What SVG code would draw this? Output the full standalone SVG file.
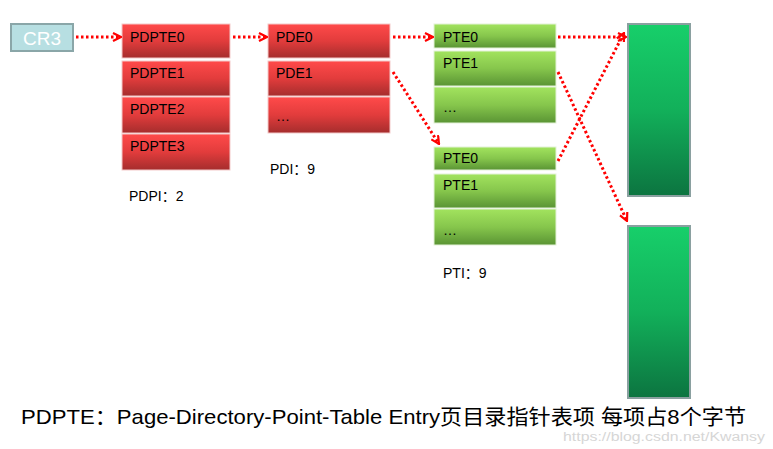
<svg xmlns="http://www.w3.org/2000/svg" width="773" height="449" viewBox="0 0 773 449">
<defs>
<linearGradient id="gRed" x1="0" y1="0" x2="0" y2="1">
<stop offset="0" stop-color="#ff4a4a"/><stop offset="0.5" stop-color="#e23c3c"/><stop offset="1" stop-color="#a52d2d"/>
</linearGradient>
<linearGradient id="gLime" x1="0" y1="0" x2="0" y2="1">
<stop offset="0" stop-color="#a2e35e"/><stop offset="0.5" stop-color="#86c64c"/><stop offset="1" stop-color="#5a9434"/>
</linearGradient>
<linearGradient id="gPage" x1="0" y1="0" x2="0" y2="1">
<stop offset="0" stop-color="#17cf6a"/><stop offset="0.5" stop-color="#12b05a"/><stop offset="1" stop-color="#0c7440"/>
</linearGradient>
<marker id="ah" viewBox="0 0 10 10" refX="9" refY="5" markerWidth="10" markerHeight="10" markerUnits="userSpaceOnUse" orient="auto">
<path d="M1,1 L9,5 L1,9" fill="none" stroke="#ff0000" stroke-width="2.2"/>
</marker>
<style>
.red{fill:url(#gRed);stroke:#f3c9c9;stroke-width:1}
.lime{fill:url(#gLime);stroke:#e4f2d8;stroke-width:1}
.page{fill:url(#gPage);stroke:#8aa0a0;stroke-width:2}
.t{font-family:"Liberation Sans",Arial,sans-serif;font-size:14px;fill:#000}
.lbl{font-family:"Liberation Sans",Arial,"Noto Sans CJK SC",sans-serif;font-size:14px;fill:#000}
.c{fill:none;stroke:#ff0000;stroke-width:3;stroke-dasharray:2.5 2.5;marker-end:url(#ah)}
</style>
</defs>
<rect width="773" height="449" fill="#ffffff"/>

<g id="cr3">
<rect x="11" y="24" width="62" height="27" fill="#b7dfe2" stroke="#8aa6a8" stroke-width="2"/>
<text x="42" y="45" text-anchor="middle" font-family="Liberation Sans,Arial,sans-serif" font-size="19" fill="#ffffff">CR3</text>
</g>

<g id="pdpt">
<rect class="red" x="122" y="24" width="108" height="34"/>
<rect class="red" x="122" y="61" width="108" height="35"/>
<rect class="red" x="122" y="97" width="108" height="36"/>
<rect class="red" x="122" y="134" width="108" height="36"/>
<text class="t" x="130" y="42">PDPTE0</text>
<text class="t" x="130" y="78">PDPTE1</text>
<text class="t" x="130" y="114">PDPTE2</text>
<text class="t" x="130" y="151">PDPTE3</text>
<text class="lbl" x="129" y="201">PDPI：2</text>
</g>

<g id="pd">
<rect class="red" x="268" y="24" width="122" height="34"/>
<rect class="red" x="268" y="61" width="122" height="35"/>
<rect class="red" x="268" y="97" width="122" height="36"/>
<text class="t" x="276" y="42">PDE0</text>
<text class="t" x="276" y="78">PDE1</text>
<text class="t" x="276" y="121" font-size="16">…</text>
<text class="lbl" x="270" y="174">PDI：9</text>
</g>

<g id="pt1">
<rect class="lime" x="434" y="24" width="122" height="24"/>
<rect class="lime" x="434" y="51" width="122" height="35"/>
<rect class="lime" x="434" y="87" width="122" height="36"/>
<text class="t" x="443" y="42">PTE0</text>
<text class="t" x="443" y="68">PTE1</text>
<text class="t" x="443" y="112" font-size="16">…</text>
</g>

<g id="pt2">
<rect class="lime" x="434" y="147" width="122" height="23"/>
<rect class="lime" x="434" y="174" width="122" height="34"/>
<rect class="lime" x="434" y="209" width="122" height="36"/>
<text class="t" x="443" y="163">PTE0</text>
<text class="t" x="443" y="190">PTE1</text>
<text class="t" x="443" y="235" font-size="16">…</text>
<text class="lbl" x="443" y="278">PTI：9</text>
</g>

<g id="page1">
<rect class="page" x="628" y="24" width="62" height="172"/>
</g>
<g id="page2">
<rect class="page" x="628" y="226" width="62" height="172"/>
</g>

<g id="connectors">
<line class="c" x1="76" y1="37" x2="121" y2="37"/>
<line class="c" x1="233" y1="37" x2="267" y2="37"/>
<line class="c" x1="393" y1="37" x2="433" y2="37"/>
<line class="c" x1="393" y1="72" x2="439" y2="144"/>
<line class="c" x1="558" y1="37" x2="626" y2="37"/>
<line class="c" x1="558" y1="72" x2="627" y2="221"/>
<line class="c" x1="558" y1="161" x2="624" y2="33"/>
</g>

<g id="caption">
<text x="21" y="424" font-family="Liberation Sans,Arial,'Noto Sans CJK SC',sans-serif" font-size="21" fill="#000" textLength="725" lengthAdjust="spacingAndGlyphs">PDPTE：Page-Directory-Point-Table  Entry页目录指针表项 每项占8个字节</text>
<text x="563" y="441" font-family="Liberation Sans,Arial,sans-serif" font-size="12" fill="#d6d6d6" textLength="202" lengthAdjust="spacingAndGlyphs">https://blog.csdn.net/Kwansy</text>
</g>
</svg>
